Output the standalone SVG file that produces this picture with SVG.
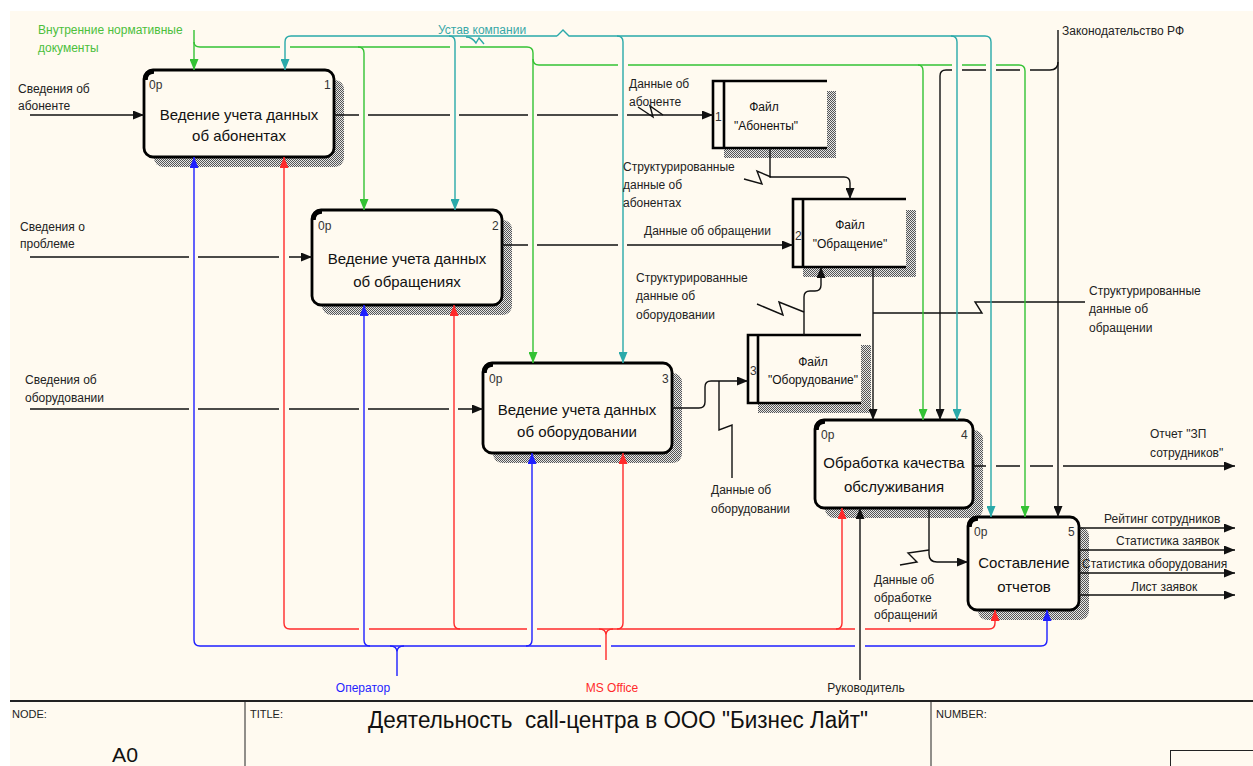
<svg xmlns="http://www.w3.org/2000/svg" width="1253" height="766" viewBox="0 0 1253 766">
<style>
  text { font-family: "Liberation Sans", Arial, sans-serif; }
  .lbl { font-size: 12px; fill: #222; }
  .ttl { font-size: 15px; fill: #111; text-anchor: middle; }
  .num { font-size: 12px; fill: #333; }
  .ftx { font-size: 12px; fill: #111; text-anchor: middle; }
  .box { fill: #fffaf0; stroke: #000; stroke-width: 2.8; }
  .corner { fill: none; stroke: #000; stroke-width: 4.5; }
  .shadow { fill: url(#hatch); }
  .ffill { fill: #fffaf0; }
  .fline { fill: none; stroke: #000; stroke-width: 2.6; }
  .c { fill: none; stroke-width: 1.4; }
  .k { stroke: #111; }
  .g { stroke: #34c234; }
  .t { stroke: #2aa9a9; }
  .b { stroke: #1f1fff; }
  .r { stroke: #ff2a2a; }
  .frame { fill: none; stroke: #222; }
</style>
<defs>
  <pattern id="hatch" width="2" height="2" patternUnits="userSpaceOnUse">
    <rect width="2" height="2" fill="#e6e6e6"/>
    <rect width="1" height="1" fill="#555"/>
    <rect x="1" y="1" width="1" height="1" fill="#555"/>
  </pattern>
  <marker id="mk" viewBox="0 0 11 9" markerWidth="11" markerHeight="9" refX="11" refY="4.5" orient="auto" markerUnits="userSpaceOnUse"><path d="M0,0 L11,4.5 L0,9 z" fill="#111"/></marker>
  <marker id="mg" viewBox="0 0 11 9" markerWidth="11" markerHeight="9" refX="11" refY="4.5" orient="auto" markerUnits="userSpaceOnUse"><path d="M0,0 L11,4.5 L0,9 z" fill="#34c234"/></marker>
  <marker id="mt" viewBox="0 0 11 9" markerWidth="11" markerHeight="9" refX="11" refY="4.5" orient="auto" markerUnits="userSpaceOnUse"><path d="M0,0 L11,4.5 L0,9 z" fill="#2aa9a9"/></marker>
  <marker id="mb" viewBox="0 0 11 9" markerWidth="11" markerHeight="9" refX="11" refY="4.5" orient="auto" markerUnits="userSpaceOnUse"><path d="M0,0 L11,4.5 L0,9 z" fill="#1f1fff"/></marker>
  <marker id="mr" viewBox="0 0 11 9" markerWidth="11" markerHeight="9" refX="11" refY="4.5" orient="auto" markerUnits="userSpaceOnUse"><path d="M0,0 L11,4.5 L0,9 z" fill="#ff2a2a"/></marker>
</defs>

<!-- sheet -->
<rect width="1253" height="766" fill="#ffffff"/>
<rect x="10" y="11" width="1243" height="755" fill="#fffaf0"/>

<!-- activity boxes -->
<g id="box1">
  <rect class="shadow" x="154" y="80" width="190" height="87" rx="9"/>
  <rect class="box" x="144" y="70" width="190" height="87" rx="9"/>
  <path class="corner" d="M145.5,80 Q145.5,71.5 154,71.5"/>
  <text class="num" x="149" y="89">0р</text>
  <text class="num" x="324" y="89">1</text>
  <text class="ttl" x="239" y="120">Ведение учета данных</text>
  <text class="ttl" x="239" y="141">об абонентах</text>
</g>
<g id="box2">
  <rect class="shadow" x="322" y="220" width="190" height="95" rx="9"/>
  <rect class="box" x="312" y="210" width="190" height="95" rx="9"/>
  <path class="corner" d="M313.5,220 Q313.5,211.5 322,211.5"/>
  <text class="num" x="318" y="230">0р</text>
  <text class="num" x="492" y="230">2</text>
  <text class="ttl" x="407" y="264">Ведение учета данных</text>
  <text class="ttl" x="407" y="287">об обращениях</text>
</g>
<g id="box3">
  <rect class="shadow" x="493" y="373" width="189" height="90" rx="9"/>
  <rect class="box" x="483" y="363" width="189" height="90" rx="9"/>
  <path class="corner" d="M484.5,373 Q484.5,364.5 493,364.5"/>
  <text class="num" x="489" y="383">0р</text>
  <text class="num" x="662" y="383">3</text>
  <text class="ttl" x="577" y="415">Ведение учета данных</text>
  <text class="ttl" x="577" y="437">об оборудовании</text>
</g>
<g id="box4">
  <rect class="shadow" x="825" y="430" width="158" height="88" rx="9"/>
  <rect class="box" x="815" y="420" width="158" height="88" rx="9"/>
  <path class="corner" d="M816.5,430 Q816.5,421.5 825,421.5"/>
  <text class="num" x="821" y="439">0р</text>
  <text class="num" x="961" y="439">4</text>
  <text class="ttl" x="894" y="468">Обработка качества</text>
  <text class="ttl" x="894" y="492">обслуживания</text>
</g>
<g id="box5">
  <rect class="shadow" x="978" y="527" width="111" height="93" rx="9"/>
  <rect class="box" x="968" y="517" width="111" height="93" rx="9"/>
  <path class="corner" d="M969.5,527 Q969.5,518.5 978,518.5"/>
  <text class="num" x="974" y="536">0р</text>
  <text class="num" x="1068" y="536">5</text>
  <text class="ttl" x="1024" y="568">Составление</text>
  <text class="ttl" x="1024" y="592">отчетов</text>
</g>

<!-- data stores -->
<g id="file1">
  <rect class="shadow" x="724" y="91" width="112" height="67"/>
  <rect class="ffill" x="713" y="81" width="114" height="67"/>
  <path class="fline" d="M827,81 H713 V148 H827 M724,81 V148"/>
  <text class="num" x="715" y="121" font-size="11">1</text>
  <text class="ftx" x="764" y="111">Файл</text>
  <text class="ftx" x="766" y="130">"Абоненты"</text>
</g>
<g id="file2">
  <rect class="shadow" x="803" y="210" width="113" height="67"/>
  <rect class="ffill" x="793" y="199" width="113" height="68"/>
  <path class="fline" d="M906,199 H793 V267 H906 M803,199 V267"/>
  <text class="num" x="795" y="240" font-size="11">2</text>
  <text class="ftx" x="850" y="229">Файл</text>
  <text class="ftx" x="850" y="248">"Обращение"</text>
</g>
<g id="file3">
  <rect class="shadow" x="758" y="345" width="113" height="68"/>
  <rect class="ffill" x="748" y="335" width="113" height="68"/>
  <path class="fline" d="M861,335 H748 V403 H861 M758,335 V403"/>
  <text class="num" x="750" y="375" font-size="11">3</text>
  <text class="ftx" x="813" y="366">Файл</text>
  <text class="ftx" x="813" y="384">"Оборудование"</text>
</g>

<!-- arrows -->
<g id="connectors">
  <!-- inputs -->
  <path class="c k" marker-end="url(#mk)" d="M30,115 H144"/>
  <path class="c k" marker-end="url(#mk)" d="M30,257 H189 M198,257 H279 M289,257 H312"/>
  <path class="c k" marker-end="url(#mk)" d="M30,409 H189 M198,409 H279 M289,409 H359 M368,409 H449 M458,409 H483"/>
  <!-- outputs to stores -->
  <path class="c k" marker-end="url(#mk)" d="M334,115 H359 M368,115 H450 M459,115 H528 M537,115 H618 M627,115 H713"/>
  <path class="c k" d="M638,107 L653,117 L650,106 L663,115"/>
  <path class="c k" marker-end="url(#mk)" d="M502,245 H528 M537,245 H618 M627,245 H793"/>
  <path class="c k" marker-end="url(#mk)" d="M672,408 H699 Q705,408 705,402 V387 Q705,381 711,381 H748"/>
  <path class="c k" d="M719,381 V430 L732,425 V478"/>
  <!-- store to store -->
  <path class="c k" marker-end="url(#mk)" d="M770,148 V177 H844 Q850,177 850,183 V199"/>
  <path class="c k" d="M744,179 L762,184 L757,171 L771,177"/>
  <path class="c k" marker-end="url(#mk)" d="M804,335 V297 Q804,291 810,291 H815 Q821,291 821,285 V267"/>
  <path class="c k" d="M757,304 L783,315 L779,302 L804,312"/>
  <path class="c k" marker-end="url(#mk)" d="M873,267 V420"/>
  <path class="c k" d="M873,313 H982 L975,302 H1085"/>
  <!-- legislation control -->
  <path class="c k" marker-end="url(#mk)" d="M1058,30 V517"/>
  <path class="c k" marker-end="url(#mk)" d="M1058,62 Q1058,70 1050,70 H1030 M1020,70 H996 M986,70 H962 M952,70 H946 Q940,70 940,76 V420"/>
  <!-- box 4 outputs -->
  <path class="c k" marker-end="url(#mk)" d="M973,466 H986 M996,466 H1020 M1030,466 H1053 M1063,466 H1235"/>
  <path class="c k" marker-end="url(#mk)" d="M929,508 V554 Q929,562 937,562 H968"/>
  <path class="c k" d="M900,565 L917,562 L908,553 L929,550"/>
  <!-- box 5 outputs -->
  <path class="c k" marker-end="url(#mk)" d="M1079,528 H1235"/>
  <path class="c k" marker-end="url(#mk)" d="M1079,550 H1235"/>
  <path class="c k" marker-end="url(#mk)" d="M1079,573 H1235"/>
  <path class="c k" marker-end="url(#mk)" d="M1079,595 H1235"/>
  <!-- manager mechanism -->
  <path class="c k" marker-end="url(#mk)" d="M860,680 V508"/>

  <!-- internal documents control -->
  <path class="c g" marker-end="url(#mg)" d="M194,30 V70"/>
  <path class="c g" marker-end="url(#mg)" d="M194,42 Q194,47 200,47 H280 M290,47 H450 M460,47 H527 Q533,47 533,53 V363"/>
  <path class="c g" marker-end="url(#mg)" d="M358,47 Q364,47 364,53 V210"/>
  <path class="c g" marker-end="url(#mg)" d="M533,59 Q533,65 539,65 H618 M628,65 H918 Q923,65 923,71 V420"/>
  <path class="c g" marker-end="url(#mg)" d="M918,65 H952 M962,65 H986 M996,65 H1019 Q1025,65 1025,71 V517"/>

  <!-- company charter control -->
  <path class="c t" marker-end="url(#mt)" d="M557,36 H291 Q285,36 285,42 V70"/>
  <path class="c t" marker-end="url(#mt)" d="M449,36 Q455,36 455,42 V210"/>
  <path class="c t" marker-end="url(#mt)" d="M557,36 L563,30 L569,36 H617 Q623,36 623,42 V363"/>
  <path class="c t" marker-end="url(#mt)" d="M617,36 H951 Q957,36 957,42 V420"/>
  <path class="c t" marker-end="url(#mt)" d="M951,36 H985 Q991,36 991,42 V517"/>
  <path class="c t" d="M466,37 Q472,37 476,43 L479,38 L484,44"/>

  <!-- operator mechanism -->
  <path class="c b" marker-end="url(#mb)" d="M200,646 Q194,646 194,640 V157"/>
  <path class="c b" marker-end="url(#mb)" d="M370,646 Q364,646 364,640 V305"/>
  <path class="c b" marker-end="url(#mb)" d="M526,646 Q532,646 532,640 V453"/>
  <path class="c b" marker-end="url(#mb)" d="M200,646 H601 M611,646 H855 M865,646 H1041 Q1047,646 1047,640 V610"/>
  <path class="c b" d="M390,646 Q397,646 397,652 V676 M404,646 Q397,646 397,652"/>

  <!-- MS Office mechanism -->
  <path class="c r" marker-end="url(#mr)" d="M290,629 Q284,629 284,623 V157"/>
  <path class="c r" marker-end="url(#mr)" d="M460,629 Q454,629 454,623 V305"/>
  <path class="c r" marker-end="url(#mr)" d="M617,629 Q623,629 623,623 V453"/>
  <path class="c r" marker-end="url(#mr)" d="M836,629 Q842,629 842,623 V508"/>
  <path class="c r" marker-end="url(#mr)" d="M290,629 H359 M369,629 H527 M537,629 H855 M865,629 H989 Q995,629 995,623 V610"/>
  <path class="c r" d="M599,629 Q606,629 606,635 V660 M613,629 Q606,629 606,635"/>
</g>

<!-- arrow labels -->
<g id="labels">
  <text class="lbl" x="38" y="34" style="fill:#4cbf3c">Внутренние нормативные</text>
  <text class="lbl" x="38" y="52" style="fill:#4cbf3c">документы</text>
  <text class="lbl" x="438" y="34" style="fill:#38a8a8">Устав компании</text>
  <text class="lbl" x="1062" y="35">Законодательство РФ</text>
  <text class="lbl" x="18" y="93">Сведения об</text>
  <text class="lbl" x="18" y="110">абоненте</text>
  <text class="lbl" x="20" y="231">Сведения о</text>
  <text class="lbl" x="20" y="248">проблеме</text>
  <text class="lbl" x="25" y="384">Сведения об</text>
  <text class="lbl" x="25" y="402">оборудовании</text>
  <text class="lbl" x="629" y="88">Данные об</text>
  <text class="lbl" x="629" y="106">абоненте</text>
  <text class="lbl" x="623" y="171">Структурированные</text>
  <text class="lbl" x="623" y="189">данные об</text>
  <text class="lbl" x="623" y="207">абонентах</text>
  <text class="lbl" x="644" y="235">Данные об обращении</text>
  <text class="lbl" x="636" y="282">Структурированные</text>
  <text class="lbl" x="636" y="300">данные об</text>
  <text class="lbl" x="636" y="319">оборудовании</text>
  <text class="lbl" x="1089" y="295">Структурированные</text>
  <text class="lbl" x="1089" y="313">данные об</text>
  <text class="lbl" x="1089" y="332">обращении</text>
  <text class="lbl" x="711" y="494">Данные об</text>
  <text class="lbl" x="711" y="513">оборудовании</text>
  <text class="lbl" x="1150" y="438">Отчет "ЗП</text>
  <text class="lbl" x="1150" y="457">сотрудников"</text>
  <text class="lbl" x="874" y="584">Данные об</text>
  <text class="lbl" x="874" y="602">обработке</text>
  <text class="lbl" x="874" y="619">обращений</text>
  <text class="lbl" x="1104" y="523">Рейтинг сотрудников</text>
  <text class="lbl" x="1116" y="545">Статистика заявок</text>
  <text class="lbl" x="1082" y="568">Статистика оборудования</text>
  <text class="lbl" x="1131" y="591">Лист заявок</text>
  <text class="lbl" x="363" y="692" text-anchor="middle" style="fill:#1f1fff">Оператор</text>
  <text class="lbl" x="612" y="692" text-anchor="middle" style="fill:#ff2a2a">MS Office</text>
  <text class="lbl" x="866" y="692" text-anchor="middle">Руководитель</text>
</g>

<!-- title block -->
<g id="frame">
  <line class="frame" x1="10" y1="701" x2="1253" y2="701" stroke-width="2"/>
  <line class="frame" x1="245" y1="701" x2="245" y2="766"/>
  <line class="frame" x1="931" y1="701" x2="931" y2="766"/>
  <rect class="frame" x="1170.5" y="750.5" width="90" height="30"/>
  <text x="12" y="718" font-size="11" fill="#222">NODE:</text>
  <text x="250" y="718" font-size="11" fill="#222">TITLE:</text>
  <text x="936" y="718" font-size="11" fill="#222">NUMBER:</text>
  <text x="125" y="762" font-size="21" fill="#111" text-anchor="middle" textLength="26" lengthAdjust="spacingAndGlyphs">A0</text>
  <text x="618" y="728" font-size="23" fill="#111" text-anchor="middle" xml:space="preserve" textLength="500" lengthAdjust="spacingAndGlyphs">Деятельность  call-центра в ООО "Бизнес Лайт"</text>
</g>
</svg>
